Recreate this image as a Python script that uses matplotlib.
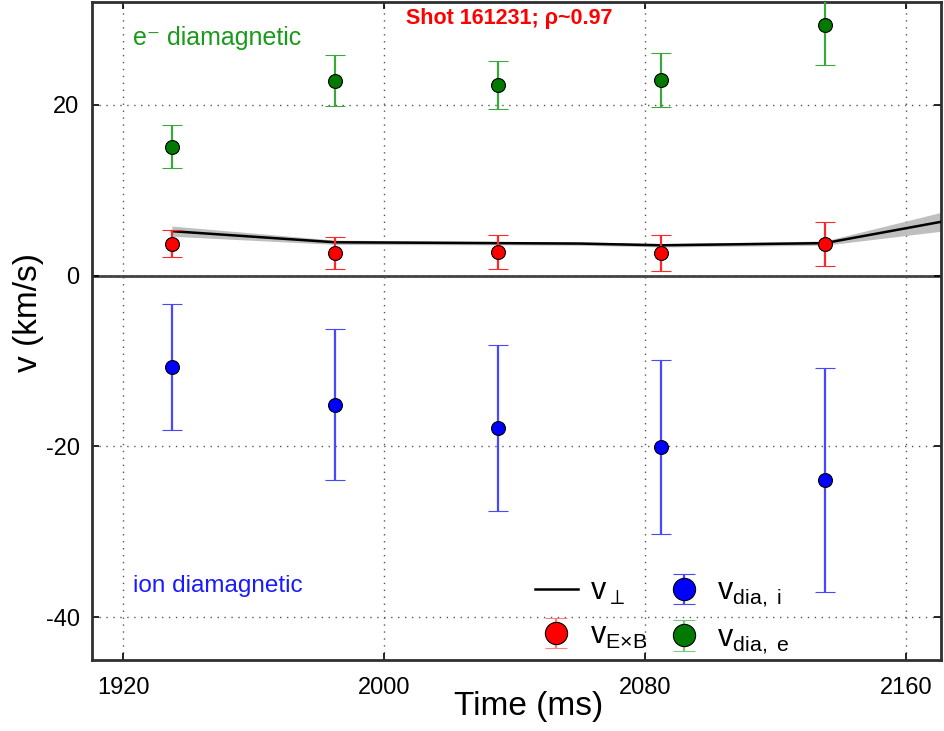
import numpy as np
import matplotlib
matplotlib.use('Agg')
import matplotlib.pyplot as plt
from matplotlib.lines import Line2D

plt.rcParams['font.family'] = ['Liberation Sans', 'DejaVu Sans']
plt.rcParams['mathtext.fontset'] = 'custom'
plt.rcParams['mathtext.rm'] = 'Liberation Sans'
plt.rcParams['mathtext.it'] = 'Liberation Sans'
plt.rcParams['mathtext.default'] = 'regular'
plt.rcParams['mathtext.fallback'] = 'stixsans'
plt.rcParams['axes.unicode_minus'] = False

# time of each measurement (ms)
time = [1935, 1985, 2035, 2085, 2135]

# ExB velocity
v_exb = [3.75, 2.65, 2.75, 2.65, 3.7]
v_exb_err = [1.6, 1.85, 2.0, 2.1, 2.6]

# ion diamagnetic velocity
v_dia_i = [-10.7, -15.1, -17.8, -20.1, -23.9]
v_dia_i_err = [7.35, 8.8, 9.7, 10.2, 13.1]

# electron diamagnetic velocity
v_dia_e = [15.1, 22.8, 22.3, 22.9, 29.3]
v_dia_e_err = [2.5, 3.0, 2.8, 3.2, 4.6]

# perpendicular velocity with its uncertainty band
t_perp = [1935, 1985, 2035, 2060, 2085, 2135, 2185]
v_perp = [5.2, 3.9, 3.8, 3.75, 3.55, 3.8, 7.3]
v_perp_err = [0.6, 0.25, 0.2, 0.2, 0.2, 0.25, 1.45]

fig = plt.figure(figsize=(9.44, 7.31), dpi=100)
ax = fig.add_axes([0.0975, 0.097, 0.8995, 0.9])

lo = np.array(v_perp) - np.array(v_perp_err)
hi = np.array(v_perp) + np.array(v_perp_err)
ax.fill_between(t_perp, lo, hi, color='#b0b0b0', alpha=0.8, lw=0, zorder=2)
ax.plot(t_perp, v_perp, color='black', lw=1.8, zorder=3)

ax.axhline(0, color='#404040', lw=2, zorder=1)

common = dict(fmt='o', ms=10, mec='black', mew=0.8, elinewidth=1.6,
              capsize=7, capthick=1.6, zorder=4)
ax.errorbar(time, v_exb, yerr=v_exb_err, mfc='#ff0000', ecolor='#ff2828', **common)
ax.errorbar(time, v_dia_i, yerr=v_dia_i_err, mfc='#0000ff', ecolor='#4848ff', **common)
ax.errorbar(time, v_dia_e, yerr=v_dia_e_err, mfc='#007a00', ecolor='#3aa83a', **common)

ax.set_xlim(1910.5, 2170.7)
ax.set_ylim(-45, 32)
ax.set_xticks([1920, 2000, 2080, 2160])
ax.set_yticks([-40, -20, 0, 20])
ax.grid(True, ls=(0, (1, 4)), color='#555555', lw=1.0)
ax.tick_params(direction='in', top=True, right=True, length=5, width=1.2,
               labelsize=17)
ax.tick_params(axis='x', pad=12)
ax.tick_params(axis='y', pad=9)
for sp in ax.spines.values():
    sp.set_linewidth(2)
    sp.set_color('#303030')

ax.set_xlabel('Time (ms)', fontsize=24)
ax.set_ylabel('v (km/s)', fontsize=24)
ax.xaxis.set_label_coords(0.514, -0.047)
ax.yaxis.set_label_coords(-0.056, 0.529)

ax.text(0.048, 0.945, 'e⁻ diamagnetic', transform=ax.transAxes,
        color='#1a9a1a', fontsize=18, va='center')
ax.text(0.048, 0.112, 'ion diamagnetic', transform=ax.transAxes,
        color='#1a1aff', fontsize=17.5, va='center')
ax.text(0.491, 0.975, 'Shot 161231; ρ~0.97', transform=ax.transAxes,
        color='#ff0000', fontsize=15.5, fontweight='bold', ha='center', va='center')


def eb_handle(face, ecol):
    return ax.errorbar([np.nan], [np.nan], yerr=[1.0], fmt='o', ms=16, mfc=face,
                       mec='black', mew=0.8, ecolor=ecol, elinewidth=1.6,
                       capsize=8, capthick=1.6)


h_perp = Line2D([], [], color='black', lw=1.8)
h_exb = eb_handle('#ff0000', '#ff8080')
h_i = eb_handle('#0000ff', '#4848ff')
h_e = eb_handle('#007a00', '#80c880')

ax.legend([h_perp, h_exb, h_i, h_e],
          [r'v$_{\perp}$', r'v$_{E{\times}B}$', r'v$_{dia,\ i}$', r'v$_{dia,\ e}$'],
          ncol=2, loc='lower right', bbox_to_anchor=(0.854, -0.035), frameon=False,
          fontsize=22, handlelength=1.4, columnspacing=0.5, handletextpad=0.4,
          labelspacing=0.45)

fig.savefig('out.png', dpi=100)
